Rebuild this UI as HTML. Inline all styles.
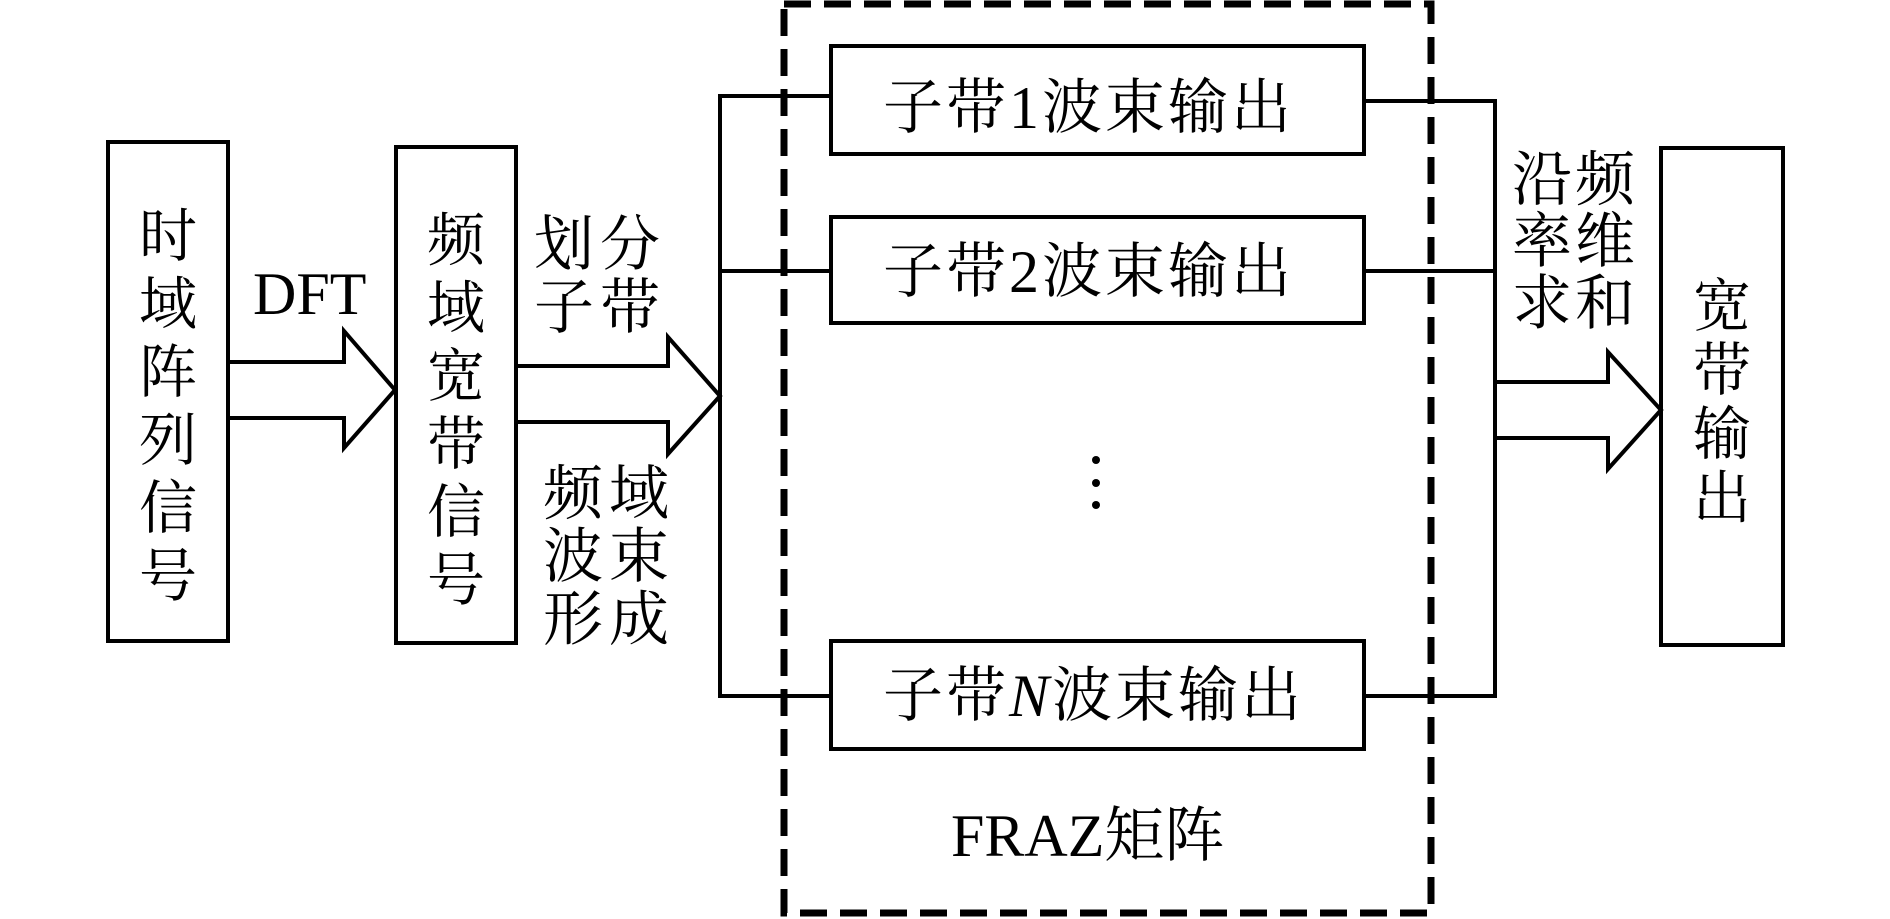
<!DOCTYPE html>
<html><head><meta charset="utf-8"><style>
html,body{margin:0;padding:0;background:#fff;}
svg{display:block;}
text{font-family:"Liberation Serif","Noto Serif CJK SC",serif;fill:#000;}
</style></head><body>
<svg width="1890" height="919" viewBox="0 0 1890 919" xmlns="http://www.w3.org/2000/svg">
<g fill="none" stroke="#000" stroke-width="4">
<rect x="108" y="142" width="120" height="499"/>
<rect x="396" y="147" width="120" height="496"/>
<rect x="831" y="46" width="533" height="108"/>
<rect x="831" y="217" width="533" height="106"/>
<rect x="831" y="641" width="533" height="108"/>
<rect x="1661" y="148" width="122" height="497"/>
<!-- arrow1 -->
<polyline points="228,362 344,362 344,331 395,390 344,448 344,418 228,418"/>
<!-- arrow2 -->
<polyline points="516,366 668,366 668,337 720,396 668,454 668,422 516,422"/>
<!-- left bus -->
<polyline points="831,96 720,96 720,696 831,696"/>
<line x1="720" y1="271" x2="831" y2="271"/>
<!-- right bus -->
<polyline points="1364,101 1495,101 1495,696 1364,696"/>
<line x1="1364" y1="271" x2="1495" y2="271"/>
<!-- arrow3 -->
<polyline points="1495,382 1608,382 1608,352 1661,410 1608,469 1608,438 1495,438"/>
<!-- dashed box -->
<rect x="784" y="4" width="647" height="909" stroke-width="7" stroke-dasharray="27,13"/>
</g>
<circle cx="1096" cy="460" r="4"/>
<circle cx="1096" cy="483" r="4"/>
<circle cx="1096" cy="505" r="4"/>
<g font-size="58" text-anchor="middle">
<text x="168" y="256">时</text><text x="168" y="324">域</text><text x="168" y="392">阵</text>
<text x="168" y="460">列</text><text x="168" y="528">信</text><text x="168" y="596">号</text>
<text x="456" y="260">频</text><text x="456" y="328">域</text><text x="456" y="396">宽</text>
<text x="456" y="464">带</text><text x="456" y="532">信</text><text x="456" y="600">号</text>
<text x="1722" y="326">宽</text><text x="1722" y="390">带</text><text x="1722" y="454">输</text><text x="1722" y="518">出</text>
</g>
<g font-size="60">
<text x="253" y="314">DFT</text>
<text x="534" y="265">划</text><text x="600" y="265">分</text>
<text x="534" y="328">子</text><text x="600" y="328">带</text>
<text x="543" y="514">频</text><text x="609" y="514">域</text>
<text x="543" y="577">波</text><text x="609" y="577">束</text>
<text x="543" y="640">形</text><text x="609" y="640">成</text>
<text x="1512" y="200">沿</text><text x="1575" y="200">频</text>
<text x="1512" y="262">率</text><text x="1575" y="262">维</text>
<text x="1512" y="324">求</text><text x="1575" y="324">和</text>
<text x="951" y="856">FRAZ矩阵</text>
</g>
<g font-size="60" letter-spacing="3">
<text x="883" y="128">子带1波束输出</text>
<text x="883" y="292">子带2波束输出</text>
<text x="883" y="716">子带<tspan font-style="italic">N</tspan>波束输出</text>
</g>
</svg>
</body></html>
